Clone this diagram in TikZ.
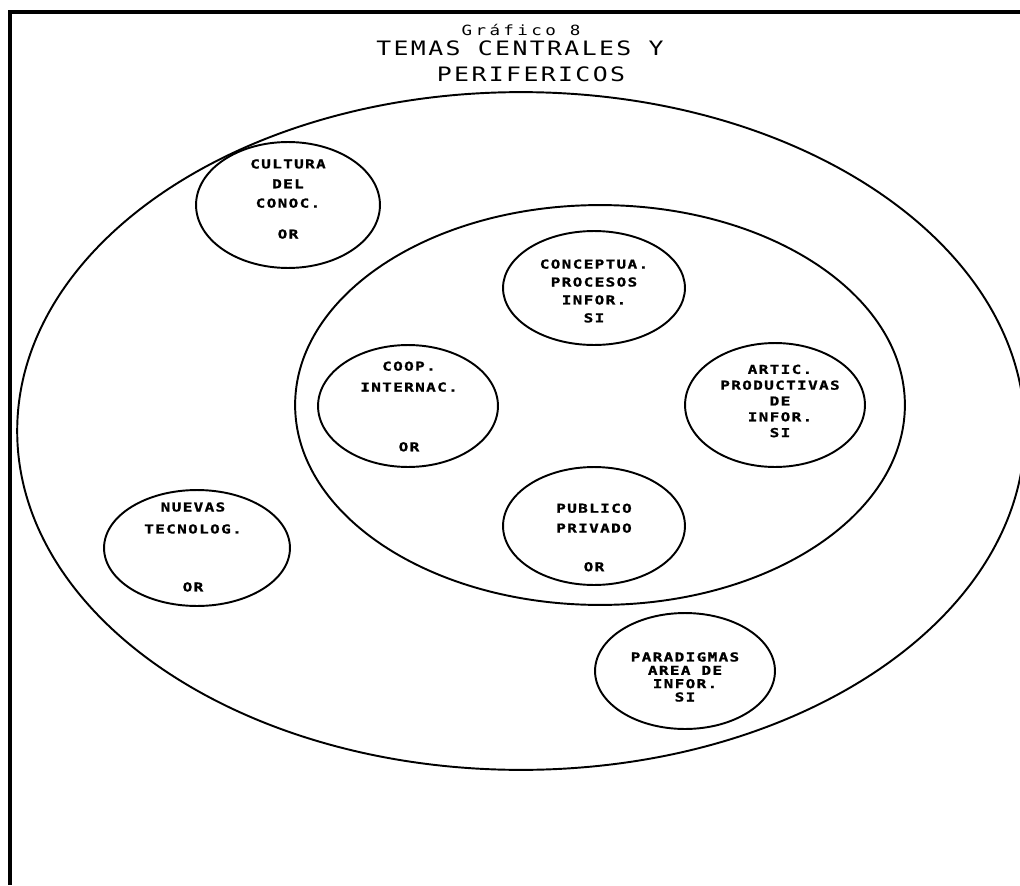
\documentclass[tikz,border=0pt]{standalone}
\usepackage{fontspec}
\usetikzlibrary{shapes.geometric}

\newfontfamily\plotterFont{DejaVu Sans Mono}[FakeStretch=1.25,LetterSpace=12]
\newfontfamily\tagFont{DejaVu Sans Mono}[FakeStretch=1.3,LetterSpace=11,FakeBold=1.2]

\tikzset{
  bubble/.style 2 args={ellipse, draw, line width=1.1pt, inner sep=0pt,
    minimum width=#1*0.04cm, minimum height=#2*0.04cm},
  tag/.style={font=\tagFont\bfseries\fontsize{7}{9}\selectfont,
    align=center, inner sep=0pt},
  heading/.style={font=\plotterFont\fontsize{11.3}{13}\selectfont, inner sep=0pt},
  frame/.style={line width=2pt},
}

\begin{document}
\begin{tikzpicture}[x=0.02cm, y=-0.02cm]
      \clip (0,0) rectangle (1020,885);
      \fill[white] (0,0) rectangle (1020,885);

      % frame of the page
      \coordinate (frameTopRight) at (1020,12);
      \coordinate (frameCorner) at (10,12);
      \coordinate (frameBottom) at (10,885);
      \draw[frame] (frameTopRight) -- (frameCorner) -- (frameBottom);

      % Title
      \node[inner sep=0pt,
        font=\plotterFont\fontsize{8}{9}\selectfont\addfontfeature{LetterSpace=24}]
        (grafico) at (521,30) {Gráfico 8};
      \node[heading] (temas) at (520,48) {TEMAS CENTRALES Y};
      \node[heading] (perifericos) at (531,74.5) {PERIFERICOS};

      % peripheral and central zones
      \node[bubble={504}{339}] (outerZone) at (521,431) {};
      \node[bubble={305}{200}] (innerZone) at (600,405) {};

      % themes
      \node[bubble={92}{63}] (cultura) at (288,205) {};
      \node[bubble={91}{57}] (conceptua) at (594,288) {};
      \node[bubble={90}{61}] (coop) at (408,406) {};
      \node[bubble={90}{62}] (artic) at (775,405) {};
      \node[bubble={91}{59}] (publico) at (594,526) {};
      \node[bubble={93}{58}] (nuevas) at (197,548) {};
      \node[bubble={90}{58}] (paradigmas) at (685,671) {};

      % Labels
      \node[tag] (culturaText) at (288,199)
        {CULTURA\\[2.3pt]DEL\\[2pt]CONOC.\\[8.6pt]OR};
      \node[tag] (conceptuaText) at (594,291)
        {CONCEPTUA.\\[1.2pt]PROCESOS\\[1.2pt]INFOR.\\[1.2pt]SI};
      \node[tag] (coopText) at (409,406.5)
        {COOP.\\[2.9pt]INTERNAC.\\[25pt]OR};
      \node[tag] (articText) at (780,401)
        {ARTIC.\\PRODUCTIVAS\\DE\\INFOR.\\SI};
      \node[tag] (publicoText) at (594,537.5)
        {PUBLICO\\[2.3pt]PRIVADO\\[13pt]OR};
      \node[tag] (nuevasText) at (193,547)
        {NUEVAS\\[3.5pt]TECNOLOG.\\[24pt]OR};
      \node[tag] (paradigmasText) at (685,677)
        {PARADIGMAS\\[-1.4pt]AREA DE\\[-1.4pt]INFOR.\\[-1.4pt]SI};
\end{tikzpicture}
\end{document}
